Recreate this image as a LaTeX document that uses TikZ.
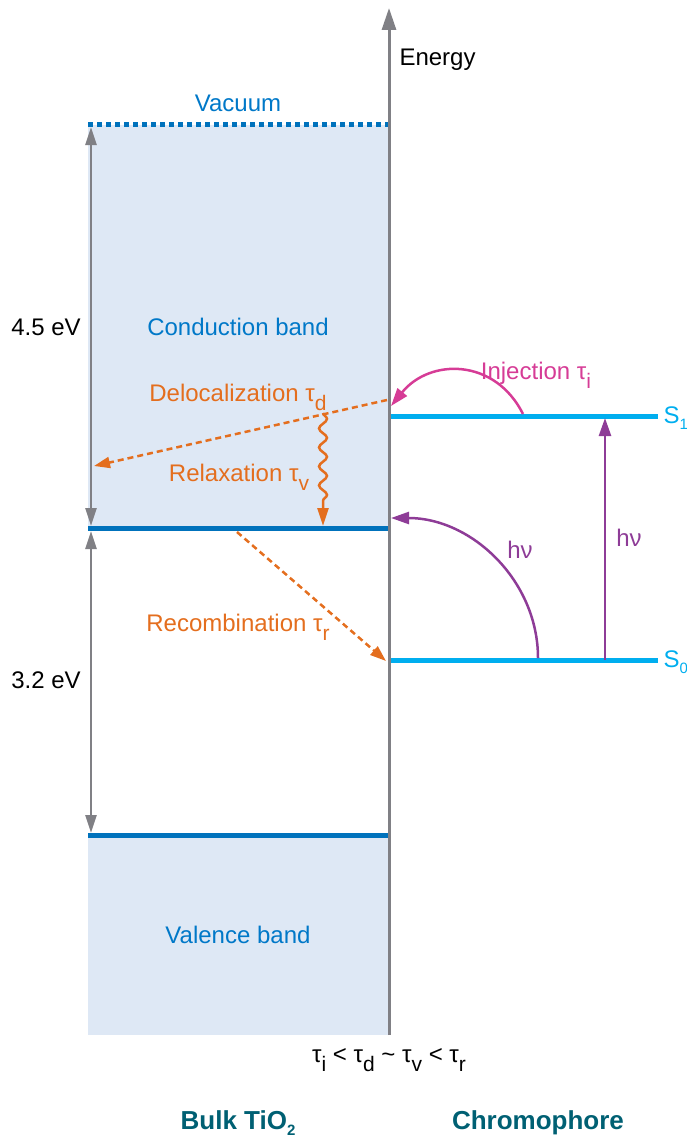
\documentclass[tikz,border=0pt]{standalone}
\usepackage{fontspec}
\setmainfont{Liberation Sans}
\usetikzlibrary{arrows.meta,decorations.pathmorphing,positioning}
\definecolor{bandfill}{RGB}{222,232,245}
\definecolor{bandedge}{RGB}{0,114,188}
\definecolor{bandtext}{RGB}{0,120,200}
\definecolor{levelcyan}{RGB}{0,174,239}
\definecolor{axisgray}{RGB}{128,128,133}
\definecolor{procorange}{RGB}{228,110,30}
\definecolor{injpink}{RGB}{214,60,150}
\definecolor{photonpurple}{RGB}{142,60,151}
\definecolor{headteal}{RGB}{0,96,115}
\newcommand{\lowidx}[1]{\raisebox{-9pt}{\fontsize{21}{21}\selectfont #1}}
\newcommand{\smallidx}[1]{\raisebox{-6pt}{\fontsize{15}{15}\selectfont #1}}

\begin{document}
\begin{tikzpicture}[x=1pt, y=-1pt,
    lbl/.style={font=\fontsize{24}{28}\selectfont},
    bandlbl/.style={lbl, text=bandtext},
    proclbl/.style={lbl, text=procorange},
    head/.style={font=\fontsize{26}{30}\selectfont\bfseries, text=headteal},
    edgeline/.style={bandedge, line width=5pt},
    levelline/.style={levelcyan, line width=5pt},
    dimarrow/.style={axisgray, line width=2.5pt, {Triangle[length=18pt,width=11pt]}-{Triangle[length=18pt,width=11pt]}},
    dashedproc/.style={procorange, line width=2.5pt, dash pattern=on 6pt off 4pt, -{Triangle[length=16pt,width=11pt]}},
    photon/.style={photonpurple, line width=2.5pt, -{Triangle[length=18pt,width=12pt]}}]
  \useasboundingbox (0,0) rectangle (687,1137);

  % levels
  \coordinate (vacL) at (88,125);
  \coordinate (vacR) at (389,125);
  \coordinate (cbL) at (88,528);
  \coordinate (cbR) at (389,528);
  \coordinate (vbL) at (88,835);
  \coordinate (vbR) at (389,835);
  \coordinate (axB) at (389,1035);
  \coordinate (axT) at (389,8);
  \coordinate (s1L) at (391,416);
  \coordinate (s1R) at (658,416);
  \coordinate (s0L) at (391,660);
  \coordinate (s0R) at (658,660);

  % bands
  \fill[bandfill] (vacL) rectangle (cbR);
  \fill[bandfill] (vbL) rectangle (axB);
  \draw[bandedge, line width=5pt, dash pattern=on 5pt off 4pt] (vacL) -- (vacR);
  \draw[edgeline] (cbL) -- (cbR);
  \draw[edgeline] (vbL) -- (vbR);
  \draw[axisgray, line width=3pt, -{Triangle[length=22pt,width=14pt]}] (axB) -- (axT);
  \node[lbl, anchor=west] (energy) at (396,60) {Energy};

  \node[bandlbl] (vac) at (238,103) {Vacuum};
  \node[bandlbl] (cb) at (238,327) {Conduction band};
  \node[bandlbl] (vb) at (238,935) {Valence band};

  % gaps
  \coordinate (g1t) at (91,127);
  \coordinate (g1b) at (91,526);
  \coordinate (g2t) at (91,531);
  \coordinate (g2b) at (91,833);
  \draw[dimarrow] (g1t) -- (g1b);
  \draw[dimarrow] (g2t) -- (g2b);
  \node[lbl] (gapvac) at (46,327) {4.5 eV};
  \node[lbl] (gapband) at (46,680) {3.2 eV};

  % chromophore
  \draw[levelline] (s1L) -- (s1R);
  \draw[levelline] (s0L) -- (s0R);
  \node[lbl, text=levelcyan, anchor=west] (s1) at (660,418) {S\smallidx{1}};
  \node[lbl, text=levelcyan, anchor=west] (s0) at (660,662) {S\smallidx{0}};

  % excitation
  \coordinate (exB) at (605,660);
  \coordinate (exT) at (605,418);
  \draw[photon] (exB) -- (exT);
  \node[lbl, text=photonpurple] (hv1) at (629,538) {hν};
  \coordinate (hvS) at (538,658);
  \coordinate (hvE) at (391,518);
  \draw[photon] (hvS) .. controls (538,581) and (472,518) .. (hvE);
  \node[lbl, text=photonpurple] (hv2) at (520,550) {hν};

  % injection
  \coordinate (injS) at (523,414);
  \coordinate (injE) at (391,406);
  \draw[injpink, line width=2.5pt, -{Triangle[length=18pt,width=12pt]}] (injS) .. controls (495,358) and (430,358) .. (injE);
  \node[lbl, text=injpink] (inj) at (536,375) {Injection τ\lowidx{i}};

  % electron processes
  \coordinate (delS) at (387,400);
  \coordinate (delE) at (94,466);
  \draw[dashedproc] (delS) -- (delE);
  \node[proclbl] (del) at (238,397) {Delocalization τ\lowidx{d}};
  \coordinate (relS) at (323,413);
  \coordinate (relE) at (323,526);
  \draw[procorange, line width=2.5pt, decorate,
    decoration={snake, amplitude=4pt, segment length=19pt, post length=20pt},
    -{Triangle[length=18pt,width=11pt]}] (relS) -- (relE);
  \node[proclbl] (rel) at (239,477) {Relaxation τ\lowidx{v}};
  \coordinate (recS) at (237,532);
  \coordinate (recE) at (386,661);
  \draw[dashedproc] (recS) -- (recE);
  \node[proclbl] (rec) at (238,627) {Recombination τ\lowidx{r}};

  % time scales
  \node[lbl] (order) at (389,1060) {τ\lowidx{i} < τ\lowidx{d} \textasciitilde{} τ\lowidx{v} < τ\lowidx{r}};
  \node[head] (bulk) at (238,1123) {Bulk TiO\smallidx{2}};
  \node[head] (chromo) at (538,1123) {Chromophore};
\end{tikzpicture}
\end{document}
